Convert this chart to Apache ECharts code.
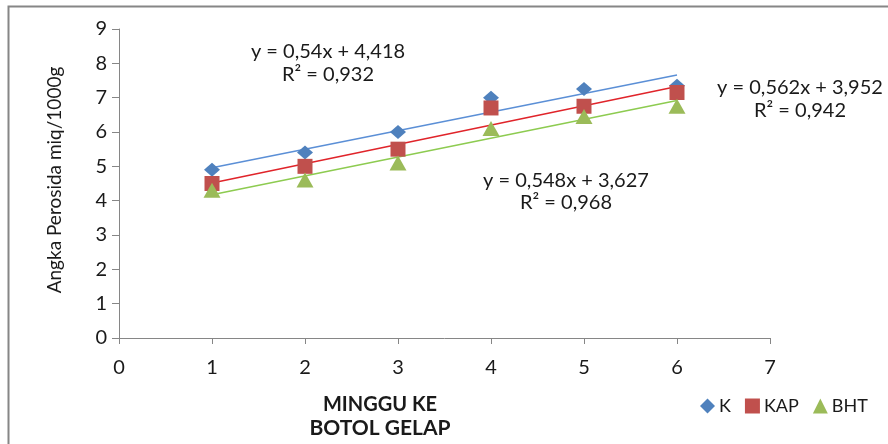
<!DOCTYPE html>
<html>
<head>
<meta charset="utf-8">
<script src="https://cdn.jsdelivr.net/npm/echarts@6/dist/echarts.min.js"></script>
<style>html,body{margin:0;padding:0;background:#fff}#c{width:888px;height:444px}</style>
</head>
<body>
<div id="c"></div>
<script>
// Data
const weeks = [1, 2, 3, 4, 5, 6];
const seriesNames = ['K', 'KAP', 'BHT'];
const valuesK = [4.9, 5.4, 6.0, 7.0, 7.25, 7.35];
const valuesKAP = [4.5, 5.0, 5.5, 6.7, 6.75, 7.15];
const valuesBHT = [4.3, 4.6, 5.1, 6.1, 6.45, 6.75];
const slopes = [0.54, 0.562, 0.548];
const intercepts = [4.418, 3.952, 3.627];
const equations = ['y = 0,54x + 4,418', 'y = 0,562x + 3,952', 'y = 0,548x + 3,627'];
const rSquared = ['R² = 0,932', 'R² = 0,942', 'R² = 0,968'];
const xTitle1 = 'MINGGU KE';
const xTitle2 = 'BOTOL GELAP';
const yTitle = 'Angka Perosida miq/1000g';

const FONT = 'Lato';
const markerColors = ['#4F81BD', '#C0504D', '#9BBB59'];
const lineColors = ['#5B8FD6', '#E0242A', '#8DCB50'];
const symbols = ['diamond', 'rect', 'triangle'];
const symbolSizes = [[16, 14], [15, 15], [17, 15]];
const allValues = [valuesK, valuesKAP, valuesBHT];

const series = [];
for (let i = 0; i < 3; i++) {
  const x0 = weeks[0], x1 = weeks[weeks.length - 1];
  series.push({
    name: seriesNames[i] + ' trend',
    type: 'line',
    data: [[x0, slopes[i] * x0 + intercepts[i]], [x1, slopes[i] * x1 + intercepts[i]]],
    showSymbol: false,
    symbol: 'none',
    lineStyle: { color: lineColors[i], width: 1.5 },
    silent: true,
    z: 1
  });
}
for (let i = 0; i < 3; i++) {
  series.push({
    name: seriesNames[i],
    type: 'scatter',
    data: weeks.map((w, j) => [w, allValues[i][j]]),
    symbol: symbols[i],
    symbolSize: symbolSizes[i],
    itemStyle: { color: markerColors[i], opacity: 1 },
    z: 2 + i
  });
}

const chart = echarts.init(document.getElementById('c'), null, { renderer: 'canvas' });
const txt = (x, y, text, extra) => Object.assign({
  type: 'text', x: x, y: y,
  style: Object.assign({ text: text, font: '20px ' + FONT, fill: '#1a1a1a', align: 'center', verticalAlign: 'middle' }, extra || {})
});
chart.setOption({
  animation: false,
  backgroundColor: '#fff',
  grid: { left: 119, right: 118, top: 29, bottom: 106, containLabel: false },
  xAxis: {
    type: 'value', min: 0, max: 7, interval: 1,
    axisLine: { lineStyle: { color: '#868686', width: 1 } },
    axisTick: { show: true, length: 6, lineStyle: { color: '#868686' } },
    axisLabel: { fontFamily: FONT, fontSize: 20, color: '#1a1a1a', margin: 20 },
    splitLine: { show: false }
  },
  yAxis: {
    type: 'value', min: 0, max: 9, interval: 1,
    axisLine: { show: true, lineStyle: { color: '#868686', width: 1 } },
    axisTick: { show: true, length: 7, lineStyle: { color: '#868686' } },
    axisLabel: { fontFamily: FONT, fontSize: 20, color: '#1a1a1a', margin: 12 },
    splitLine: { show: false }
  },
  legend: {
    data: seriesNames,
    left: 695, top: 392,
    itemWidth: 15, itemHeight: 15, itemGap: 14,
    textStyle: { fontFamily: FONT, fontSize: 18, color: '#1a1a1a', padding: [0, 0, 0, -1] }
  },
  graphic: [
    { type: 'rect', shape: { x: 8.5, y: 6.5, width: 900, height: 460 }, style: { fill: 'none', stroke: '#868686', lineWidth: 2 }, silent: true },
    txt(328, 52, equations[0]),
    txt(328, 75, rSquared[0]),
    txt(800, 88, equations[1]),
    txt(800, 111, rSquared[1]),
    txt(566, 181, equations[2]),
    txt(566, 203, rSquared[2]),
    txt(380, 405, xTitle1, { font: 'bold 20px ' + FONT }),
    txt(380, 428, xTitle2, { font: 'bold 21px ' + FONT }),
    { type: 'text', x: 55, y: 180, rotation: Math.PI / 2,
      style: { text: yTitle, font: '19px ' + FONT, fill: '#1a1a1a', align: 'center', verticalAlign: 'middle' } }
  ],
  series: series
});
</script>
</body>
</html>
